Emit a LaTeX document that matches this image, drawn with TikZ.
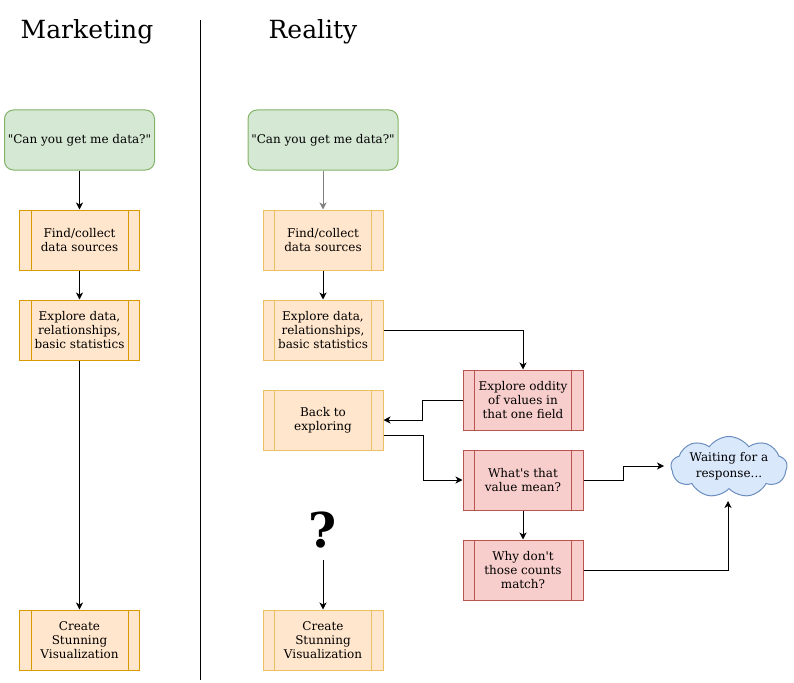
\documentclass[tikz,border=0pt]{standalone}
\usepackage{fontspec}
\setmainfont{DejaVu Serif}
\usetikzlibrary{arrows.meta,shapes.symbols}
\definecolor{gfill}{HTML}{D5E8D4}\definecolor{gline}{HTML}{82B366}
\definecolor{ofill}{HTML}{FFE6CC}\definecolor{oline}{HTML}{D79B00}\definecolor{olinel}{HTML}{EBC063}
\definecolor{rfill}{HTML}{F8CECC}\definecolor{rline}{HTML}{B85450}
\definecolor{bfill}{HTML}{DAE8FC}\definecolor{bline}{HTML}{6C8EBF}
\newcommand{\procline}[2]{\draw[#2,line width=1pt] ([xshift=12pt]#1.north west) -- ([xshift=12pt]#1.south west);
  \draw[#2,line width=1pt] ([xshift=-12pt]#1.north east) -- ([xshift=-12pt]#1.south east);}
\begin{document}
\begin{tikzpicture}[x=1pt,y=-1pt,
  every node/.style={font=\fontsize{12}{14}\selectfont, align=center},
  titletext/.style={font=\fontsize{25}{30}\selectfont},
  startbox/.style={draw=gline, fill=gfill, rounded corners=9pt, minimum width=150pt, minimum height=60pt, line width=1pt, inner sep=0pt},
  obox/.style={draw=oline, fill=ofill, minimum width=120pt, minimum height=60pt, line width=1pt, inner sep=0pt},
  oboxl/.style={obox, draw=olinel},
  rbox/.style={draw=rline, fill=rfill, minimum width=120pt, minimum height=60pt, line width=1pt, inner sep=0pt},
  cloudbox/.style={cloud, cloud puffs=9, cloud puff arc=110, aspect=1.9, draw=bline, fill=bfill, minimum width=116pt, minimum height=61pt, inner sep=0pt, line width=1pt},
  conn/.style={draw, line width=1pt, -{Stealth[length=7pt,width=7pt,inset=2pt]}},
  plain/.style={draw, line width=1pt}
]
\useasboundingbox (0,0) rectangle (794,682);
\node[titletext] (t1) at (87,32) {Marketing};
\node[titletext] (t2) at (313,32) {Reality};
\coordinate (d1) at (200,20); \coordinate (d2) at (200,680);
\draw[plain] (d1) -- (d2);

% left column
\node[startbox] (a1) at (79.5,140) {\textquotedbl Can you get me data?\textquotedbl};
\node[obox] (a2) at (79.5,240) {Find/collect\\data sources};
\node[obox] (a3) at (79.5,330) {Explore data,\\relationships,\\basic statistics};
\node[obox] (a4) at (79.5,640) {Create\\Stunning\\Visualization};
\procline{a2}{oline}\procline{a3}{oline}\procline{a4}{oline}
\path[conn] (a1) -- (a2);
\path[conn] (a2) -- (a3);
\path[conn] (a3) -- (a4);

% right column
\node[startbox] (b1) at (323,140) {\textquotedbl Can you get me data?\textquotedbl};
\node[oboxl] (b2) at (323,240) {Find/collect\\data sources};
\node[oboxl] (b3) at (323,330) {Explore data,\\relationships,\\basic statistics};
\node[oboxl] (b4) at (323,420) {Back to\\exploring};
\node[oboxl] (b5) at (323,640) {Create\\Stunning\\Visualization};
\procline{b2}{olinel}\procline{b3}{olinel}\procline{b4}{olinel}\procline{b5}{olinel}
\node[font=\fontsize{48}{56}\bfseries\selectfont, inner sep=0pt] (q) at (323,530) {?};

\node[rbox] (c1) at (523,400) {Explore oddity\\of values in\\that one field};
\node[rbox] (c2) at (523,480) {What\textquotesingle s that\\value mean?};
\node[rbox] (c3) at (523,570) {Why don\textquotesingle t\\those counts\\match?};
\procline{c1}{rline}\procline{c2}{rline}\procline{c3}{rline}
\node[cloudbox] (w) at (729,467) {};
\node[inner sep=0pt, font=\fontsize{12}{16}\selectfont] (wt) at (729,466) {Waiting for a\\response...};

\path[conn, draw=gray] (b1) -- (b2);
\path[conn] (b2) -- (b3);
\path[conn] (b3.east) -| (c1.north);
\path[conn] (c1.west) -- ++(-40,0) |- (b4.east);
\path[conn] ([yshift=-15pt]b4.east) -- ++(40,0) |- (c2.west);
\path[conn] (c2) -- (c3);
\coordinate (wl) at (664,466);
\path[conn] (c2.east) -- ++(40,0) |- (wl);
\coordinate (wb) at (728,501);
\path[conn] (c3.east) -| (wb);
\coordinate (qb) at (323,560);
\path[conn] (qb) -- (b5.north);
\end{tikzpicture}
\end{document}
